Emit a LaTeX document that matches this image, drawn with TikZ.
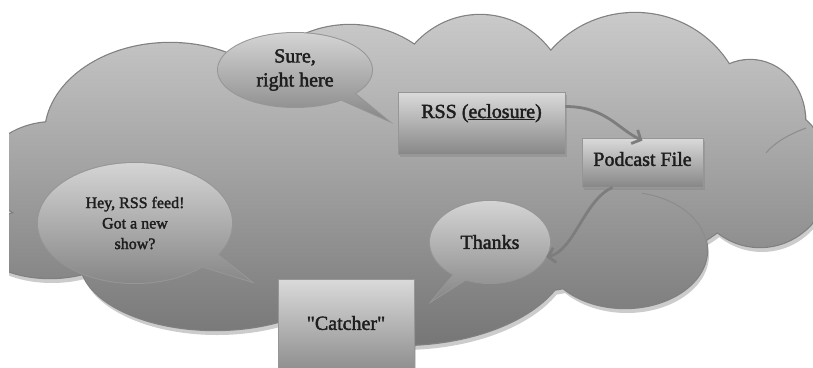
\documentclass[tikz,border=0pt]{standalone}
\usepackage{fontspec}
\setmainfont{Liberation Serif}[Ligatures=TeXOff, FakeBold=2]
\usetikzlibrary{shapes.geometric,shadows,arrows.meta,backgrounds,calc}
\definecolor{cloudtop}{RGB}{202,202,202}
\definecolor{cloudbot}{RGB}{118,118,118}
\definecolor{cloudline}{RGB}{128,128,128}
\definecolor{intline}{RGB}{140,140,140}
\definecolor{bubtop}{RGB}{212,212,212}
\definecolor{bubbot}{RGB}{135,135,135}
\definecolor{bubline}{RGB}{150,150,150}
\definecolor{boxtop}{RGB}{218,218,218}
\definecolor{boxbot}{RGB}{135,135,135}
\definecolor{boxline}{RGB}{150,150,150}
\definecolor{txt}{RGB}{30,30,30}
\definecolor{arr}{RGB}{125,125,125}
\tikzset{
  bubble/.style={ellipse, inner sep=0pt, align=center, text=txt},
  bubblefill/.style={top color=bubtop, bottom color=bubbot},
  boxnode/.style={rectangle, draw=boxline, line width=0.8pt, top color=boxtop, bottom color=boxbot,
    drop shadow={opacity=0.35, shadow xshift=2pt, shadow yshift=-2.5pt}},
  lbl/.style={text=txt, align=center, font=\fontsize{20}{24}\selectfont},
  conn/.style={draw=arr, line width=2.8pt, -{Straight Barb[length=7pt,width=15pt]}},
  innerarc/.style={draw=intline, line width=1pt},
}
\def\cloudlobes{
 (170,135) ellipse [x radius=125pt, y radius=92pt]
 (350,130) ellipse [x radius=110pt, y radius=105pt]
 (480,110) ellipse [x radius=90pt, y radius=95pt]
 (635,120) ellipse [x radius=110pt, y radius=107pt]
 (750,120) ellipse [x radius=55pt, y radius=60pt]
 (760,175) ellipse [x radius=70pt, y radius=72pt]
 (625,250) ellipse [x radius=82pt, y radius=58pt]
 (400,250) ellipse [x radius=170pt, y radius=95pt]
 (215,260) ellipse [x radius=135pt, y radius=70pt]
 (50,243) ellipse [x radius=70pt, y radius=35pt]
 (55,172) ellipse [x radius=70pt, y radius=50pt]
 (150,200) ellipse [x radius=120pt, y radius=80pt]
 (420,180) ellipse [x radius=330pt, y radius=120pt]
}
\begin{document}
\begin{tikzpicture}[x=1pt,y=-1pt]
\useasboundingbox (0,0) rectangle (813,367);

% speech bubble texts (shapes drawn on background layer)
\node[bubble, minimum width=154pt, minimum height=74pt, font=\fontsize{20}{24}\selectfont] (sure) at (295,70) {Sure,\\right here};
\node[bubble, minimum width=194pt, minimum height=120pt, font=\fontsize{16}{20.5}\selectfont] (hey) at (135,223) {Hey, RSS feed!\\Got a new\\show?};
\node[bubble, minimum width=120pt, minimum height=82pt, font=\fontsize{20}{24}\selectfont] (thanks) at (490,242) {Thanks};
\coordinate (tipS) at (387,120);
\coordinate (tipH) at (250,281);
\coordinate (tipT) at (433,300);

% boxes
\node[boxnode, minimum width=167pt, minimum height=62pt] (rss) at (481.5,123.5) {};
\node[lbl, anchor=base] (rsslbl) at (481.5,118) {RSS (\underline{eclosure})};
\node[boxnode, minimum width=121pt, minimum height=49pt] (pod) at (642.5,162.5) {};
\node[lbl] (podlbl) at (642.5,159) {Podcast File};
\node[boxnode, minimum width=136pt, minimum height=100pt] (catch) at (346,329) {};
\node[lbl] (catchlbl) at (346,323) {"Catcher"};

% connectors
\draw[conn] ([yshift=17pt]rss.east) .. controls +(40,0) and +(-25,-12) .. ([yshift=-3pt]pod.north);
\draw[conn] ([xshift=-30pt]pod.south) .. controls +(-28,12) and +(28,-6) .. (thanks.-15);

\begin{scope}[on background layer]
  \begin{scope}
    \clip (9,0) rectangle (813,367);
    \begin{scope}[shift={(2,5)}]
      \fill[black, opacity=0.2] \cloudlobes;
    \end{scope}
    \path[draw=cloudline, line width=2.4pt] \cloudlobes;
    \shade[top color=cloudtop, bottom color=cloudbot] \cloudlobes;
    % inner lobe arcs
    \draw[innerarc] (625,250) ++(78:82pt and 58pt) arc [start angle=78, end angle=-5, x radius=82pt, y radius=58pt];
    \draw[innerarc] (806,128) .. controls (790,134) and (775,142) .. (766,153);
  \end{scope}
  % bubble shapes
  \foreach \b/\t/\a/\c/\rx/\ry in {sure/tipS/-35/-18/77/37, hey/tipH/-38/-17/97/60, thanks/tipT/-140/-115/60/41}{
    \begin{scope}[shift={(2,4)}]
      \fill[black, opacity=0.18] (\b.center) ellipse [x radius=\rx pt, y radius=\ry pt]
        ($(\b.center)!0.8!(\b.\a)$) -- (\t) -- ($(\b.center)!0.8!(\b.\c)$) -- cycle;
    \end{scope}
    \path[draw=bubline, line width=2pt] (\b.center) ellipse [x radius=\rx pt, y radius=\ry pt]
        ($(\b.center)!0.8!(\b.\a)$) -- (\t) -- ($(\b.center)!0.8!(\b.\c)$) -- cycle;
    \shade[bubblefill] (\b.center) ellipse [x radius=\rx pt, y radius=\ry pt]
        ($(\b.center)!0.8!(\b.\a)$) -- (\t) -- ($(\b.center)!0.8!(\b.\c)$) -- cycle;
  }
\end{scope}
\end{tikzpicture}
\end{document}
